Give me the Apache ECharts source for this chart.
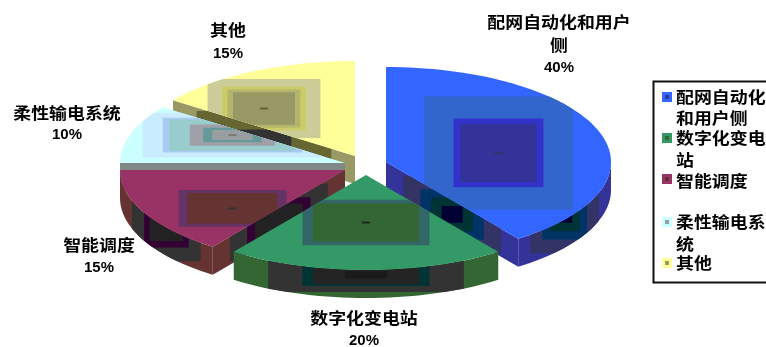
<!DOCTYPE html>
<html>
<head>
<meta charset="utf-8">
<style>html,body{margin:0;padding:0;background:#fff;overflow:hidden}#c{width:766px;height:347px}</style>
<script src="https://cdn.jsdelivr.net/npm/echarts@6/dist/echarts.min.js"></script>
</head>
<body>
<div id="c"></div>
<script>
// Shares of each category, in percent, clockwise from twelve o'clock
const categories = ['配网自动化和用户侧', '数字化变电站', '智能调度', '柔性输电系统', '其他'];
const shares = [40, 20, 15, 10, 15];

// Wrapped category names for the slice captions and the legend
const captionLines = [['配网自动化和用户', '侧'], ['数字化变电站'], ['智能调度'], ['柔性输电系统'], ['其他']];
const legendLines = [['配网自动化', '和用户侧'], ['数字化变电', '站'], ['智能调度'], ['柔性输电系', '统'], ['其他']];

// Disc geometry: exploded slice apexes, ellipse radii, extrusion depth
const apexes = [[386, 162], [366, 175], [345, 170], [345, 163], [355, 156]];
const RX = 225, RY = 95, DEPTH = 28;
// Slices listed from the one painted first to the one painted last
const paintOrder = [4, 3, 2, 0, 1];

// Caption anchors: centre x, first line y, line step
const captionPos = [[559, 22, 23], [364, 318, 23], [99, 245, 23], [67, 113, 22], [228, 30, 24]];

// Legend rows: swatch y and the y of each text line
const legendRows = [[97, [97, 118]], [138, [138, 160]], [179, [181]], [222, [222, 244]], [263, [263]]];

// Stepped shading: each level is [inset fraction of the face's box, colour]
const topShades = [
  { base: '#3366ff', levels: [[.17, '#3366cc'], [.30, '#3333cc'], [.33, '#333399']], mark: '#333366' },
  { base: '#339966', levels: [[.26, '#336666'], [.30, '#336633']], mark: '#222222' },
  { base: '#993366', levels: [[.26, '#663366'], [.30, '#663333']], mark: '#333333' },
  { base: '#ccffff', levels: [[.10, '#c9ecff'], [.19, '#a8ccf0'], [.22, '#99cccc'], [.31, '#a0a0a8'], [.37, '#669999'], [.41, '#999fa0']], mark: '#777777' },
  { base: '#ffff99', levels: [[.19, '#cccc99'], [.27, '#cccc66'], [.30, '#b4b46c'], [.33, '#999966']], mark: '#666633' }
];
const sideShades = [
  { base: '#333399', levels: [[.13, '#333366'], [.26, '#003366'], [.34, '#003333'], [.42, '#000033']] },
  { base: '#336633', levels: [[.13, '#333333'], [.26, '#003333'], [.30, '#242424'], [.42, '#1a1a1a']] },
  { base: '#663333', levels: [[.13, '#333333'], [.26, '#330033'], [.32, '#222222']] },
  { base: '#808888', levels: [] },
  { base: '#999966', levels: [[.13, '#666633'], [.35, '#333333']] }
];

const total = shares.reduce((a, b) => a + b, 0);
const rad = d => d * Math.PI / 180;
const onRim = (c, deg, drop) => [c[0] + RX * Math.sin(rad(deg)), c[1] - RY * Math.cos(rad(deg)) + (drop || 0)];
const arcPoints = (c, from, to, drop) => {
  const n = Math.max(2, Math.ceil((to - from) / 2)), pts = [];
  for (let i = 0; i <= n; i++) pts.push(onRim(c, from + (to - from) * i / n, drop));
  return pts;
};

// A filled outline overlaid with nested rectangles clipped to that outline
function shadedFace(points, shade) {
  const xs = points.map(p => p[0]), ys = points.map(p => p[1]);
  const x0 = Math.min(...xs), x1 = Math.max(...xs), y0 = Math.min(...ys), y1 = Math.max(...ys);
  const w = x1 - x0, h = y1 - y0;
  const out = [{ type: 'polygon', shape: { points }, style: { fill: shade.base } }];
  shade.levels.forEach(([f, color]) => out.push({
    type: 'rect',
    shape: { x: x0 + w * f, y: y0 + h * f, width: w * (1 - 2 * f), height: h * (1 - 2 * f) },
    style: { fill: color },
    clipPath: { type: 'polygon', shape: { points } }
  }));
  if (shade.mark) out.push({
    type: 'rect',
    shape: { x: x0 + w / 2 - 4, y: y0 + h / 2 - 1, width: 8, height: 2 },
    style: { fill: shade.mark }
  });
  return out;
}

function renderSlice(index, value, startShare) {
  const start = startShare / total * 360, end = (startShare + value) / total * 360;
  const c = apexes[index], children = [];
  const cutFace = deg => {
    const r = onRim(c, deg);
    return [[c[0], c[1]], r, [r[0], r[1] + DEPTH], [c[0], c[1] + DEPTH]];
  };
  if (start > 180 && start < 360) children.push(...shadedFace(cutFace(start), sideShades[index]));
  if (end > 0 && end < 180) children.push(...shadedFace(cutFace(end), sideShades[index]));
  const a0 = Math.max(start, 90), a1 = Math.min(end, 270);
  if (a1 > a0) {
    const rimFace = arcPoints(c, a0, a1).concat(arcPoints(c, a0, a1, DEPTH).reverse());
    children.push(...shadedFace(rimFace, sideShades[index]));
  }
  const top = [[c[0], c[1]]].concat(arcPoints(c, start, end));
  children.push(...shadedFace(top, topShades[index]));
  return { type: 'group', children };
}

let running = 0;
const series = shares.map((v, i) => {
  const startShare = running;
  running += v;
  return {
    type: 'custom',
    name: categories[i],
    coordinateSystem: 'none',
    z: 2 + paintOrder.indexOf(i),
    silent: true,
    animation: false,
    data: [[v]],
    renderItem: (params, api) => renderSlice(i, api.value(0), startShare)
  };
});

const CJK = 'bold 16px "Noto Sans CJK SC"';
const NUM = 'bold 15px "Liberation Sans"';
const graphics = [];
captionLines.forEach((lines, i) => {
  const [x, y, step] = captionPos[i];
  lines.concat(shares[i] + '%').forEach((t, k) => graphics.push({
    type: 'text', x, y: y + k * step, scaleX: k === lines.length ? 1 : 1.12, z: 20,
    style: { text: t, font: k === lines.length ? NUM : CJK, fill: '#000', align: 'center', verticalAlign: 'middle' }
  }));
});
graphics.push({
  type: 'rect', z: 19,
  shape: { x: 653.5, y: 81.5, width: 130, height: 201 },
  style: { fill: '#fff', stroke: '#111', lineWidth: 2 }
});
legendLines.forEach((lines, i) => {
  const [sy, ys] = legendRows[i];
  graphics.push({
    type: 'rect', z: 20, shape: { x: 662, y: sy - 5, width: 10, height: 10 },
    style: { fill: topShades[i].base }
  }, {
    type: 'rect', z: 21, shape: { x: 665, y: sy - 2, width: 4, height: 4 },
    style: { fill: topShades[i].levels[topShades[i].levels.length - 1][1] }
  });
  lines.forEach((t, k) => graphics.push({
    type: 'text', x: 676, y: ys[k], scaleX: 1.12, z: 20,
    style: { text: t, font: CJK, fill: '#000', align: 'left', verticalAlign: 'middle' }
  }));
});

const chart = echarts.init(document.getElementById('c'), null, { renderer: 'canvas' });
chart.setOption({ animation: false, backgroundColor: '#fff', series, graphic: graphics });
</script>
</body>
</html>
